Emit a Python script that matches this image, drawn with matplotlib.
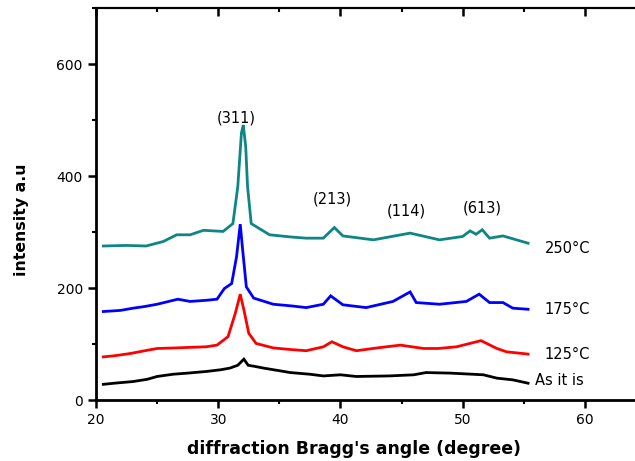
import matplotlib
matplotlib.use("Agg")
import matplotlib.pyplot as plt
from matplotlib.ticker import MultipleLocator

# ---- data ----
x_asis = [20.6, 21.5, 23.05, 24.2, 25.0, 26.3, 27.5, 29.05, 30.2, 30.96, 31.6, 32.1, 32.45, 33.0,
          33.7, 35.9, 37.5, 38.6, 40.0, 41.3, 44.0, 46.0, 47.0, 49.0, 50.8, 51.7, 52.8, 54.1, 55.35]
y_asis = [28, 30, 33, 37, 42, 46, 48, 51, 54, 57, 62, 73, 62, 60,
          57, 49, 46, 43, 45, 42, 43, 45, 49, 48, 46, 45, 39, 36, 30]

x_125 = [20.6, 21.5, 22.8, 24.0, 25.0, 26.5, 27.7, 29.0, 29.9, 30.8, 31.4, 31.8, 32.1, 32.5, 33.1,
         34.5, 36.0, 37.2, 38.6, 39.3, 40.2, 41.3, 43.0, 44.9, 46.8, 48.0, 49.5, 51.5, 52.8, 53.6,
         55.35]
y_125 = [77, 79, 83, 88, 92, 93, 94, 95, 98, 113, 155, 189, 161, 119, 101,
         93, 90, 88, 95, 104, 95, 88, 93, 98, 92, 92, 95, 106, 92, 86,
         82]

x_175 = [20.6, 22.0, 23.05, 24.0, 25.0, 26.7, 27.7, 29.0, 29.9, 30.5, 31.1, 31.5, 31.8, 32.0,
         32.3, 32.9, 34.5, 36.0, 37.2, 38.6, 39.2, 40.2, 42.1, 44.3, 45.7, 46.2, 48.1, 50.3,
         51.35, 52.2, 53.3, 54.1, 55.35]
y_175 = [158, 160, 164, 167, 171, 180, 176, 178, 180, 199, 208, 256, 314, 268,
         202, 182, 171, 168, 165, 171, 186, 170, 165, 176, 193, 174, 171, 176,
         189, 174, 174, 164, 162]

x_250 = [20.6, 22.5, 24.1, 25.5, 26.6, 27.7, 28.8, 30.4, 31.2, 31.6, 31.9, 32.05, 32.25, 32.4,
         32.7, 34.2, 36.0, 37.2, 38.6, 39.5, 40.2, 42.7, 45.7, 48.1, 50.0, 50.6, 51.1, 51.6,
         52.2, 53.3, 54.4, 55.35]
y_250 = [275, 276, 275, 283, 295, 295, 303, 301, 315, 381, 477, 491, 452, 381,
         315, 295, 291, 289, 289, 308, 293, 286, 298, 286, 292, 302, 296, 304,
         289, 293, 286, 280]

series_labels = ["As it is", "125\u00b0C", "175\u00b0C", "250\u00b0C"]
label_x = [55.9, 56.7, 56.7, 56.7]
label_y = [34, 82, 162, 271]

peak_labels = ["(311)", "(213)", "(114)", "(613)"]
peak_x = [31.45, 39.3, 45.4, 51.6]
peak_y = [504, 359, 338, 343]

colors = ["black", "#ff0000", "#0000ff", "#0f8585"]

plt.rcParams['font.family'] = ['DejaVu Sans']

fig = plt.figure(figsize=(6.35, 4.61), dpi=100)
ax = fig.add_axes([96 / 635, 61 / 461, 550 / 635, 392 / 461])

for xs, ys, c in zip([x_asis, x_125, x_175, x_250],
                     [y_asis, y_125, y_175, y_250], colors):
    ax.plot(xs, ys, color=c, lw=2.0, solid_joinstyle='miter')

for t, xx, yy in zip(series_labels, label_x, label_y):
    ax.text(xx, yy, t, fontsize=10.5, ha='left', va='center')
for t, xx, yy in zip(peak_labels, peak_x, peak_y):
    ax.text(xx, yy, t, fontsize=10.5, ha='center', va='center')

ax.set_xlim(20, 65)
ax.set_ylim(0, 700)
ax.xaxis.set_major_locator(MultipleLocator(10))
ax.xaxis.set_minor_locator(MultipleLocator(5))
ax.set_yticks([0, 200, 400, 600])
ax.yaxis.set_minor_locator(MultipleLocator(100))

for s in ['left', 'bottom']:
    ax.spines[s].set_linewidth(2)
ax.spines['top'].set_linewidth(1.5)
ax.spines['right'].set_linewidth(1.5)

ax.tick_params(axis='both', which='major', direction='out', length=6, width=1.8, labelsize=10)
ax.tick_params(axis='both', which='minor', direction='out', length=3, width=1.5)
ax.tick_params(axis='x', which='both', top=False)

secax = ax.secondary_xaxis('top')
secax.xaxis.set_major_locator(MultipleLocator(10))
secax.xaxis.set_minor_locator(MultipleLocator(5))
secax.tick_params(which='major', direction='in', length=6, width=1.8, labeltop=False)
secax.tick_params(which='minor', direction='in', length=3, width=1.5)
secax.spines['top'].set_linewidth(1.5)

ax.set_xlabel("diffraction Bragg's angle (degree)", fontsize=12.5, fontweight='bold')
ax.set_ylabel("intensity a.u", fontsize=11.3, fontweight='bold')
ax.xaxis.set_label_coords((354 - 96) / 550, -(449 - 400) / 392)
ax.yaxis.set_label_coords(-(96 - 22) / 550, (400 - 220) / 392)
ax.xaxis.label.set_va('center')
ax.yaxis.label.set_va('center')

fig.savefig("out.png", dpi=100)
